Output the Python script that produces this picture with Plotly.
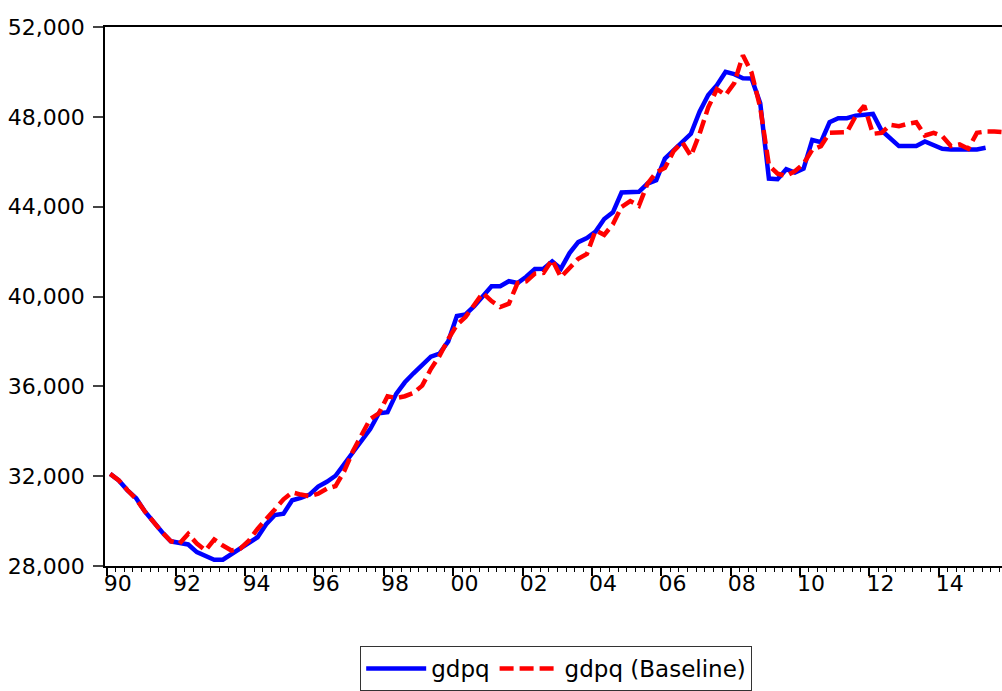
import plotly.graph_objects as go

# Quarterly observations, 1990Q1 onward
quarters = [f"{y}Q{q}" for y in range(1990, 2016) for q in range(1, 5)]

gdpq = [
    32100, 31810, 31370, 31020, 30430, 29940, 29500, 29100,
    29020, 28960, 28620, 28430, 28280, 28280, 28520, 28770,
    29020, 29280, 29860, 30270, 30330, 30930, 31030, 31180,
    31540, 31750, 32020, 32550, 33080, 33600, 34100, 34800,
    34850, 35665, 36180, 36580, 36960, 37320, 37460, 38000,
    39130, 39200, 39570, 40020, 40460, 40460, 40680, 40600,
    40880, 41230, 41240, 41565, 41240, 41935, 42420, 42600,
    42890, 43450, 43750, 44630, 44660, 44660, 45030, 45180,
    46140, 46505, 46875, 47243, 48230, 48970, 49410, 50000,
    49900, 49720, 49706, 48600, 45250, 45220, 45665, 45517,
    45694, 46970, 46874, 47759, 47936, 47936, 48054, 48113,
    48128, 47390, 47022, 46697, 46697, 46697, 46904, 46756,
    46579, 46550, 46550, 46535, 46550, 46623,
]

gdpq_baseline = [
    32100, 31810, 31370, 30980, 30430, 29940, 29500, 29100,
    29000, 29430, 29000, 28690, 29180, 28910, 28690, 28770,
    29130, 29650, 30120, 30520, 30970, 31280, 31180, 31110,
    31220, 31440, 31560, 32220, 33110, 33820, 34550, 34800,
    35560, 35480, 35560, 35710, 36030, 36770, 37360, 38100,
    38730, 39090, 39650, 40160, 39795, 39530, 39680, 40600,
    40670, 41020, 41050, 41640, 40860, 41300, 41680, 41890,
    42940, 42745, 43220, 43990, 44250, 44040, 45030, 45520,
    45725, 46470, 46875, 46255, 47243, 48420, 49235, 48970,
    49500, 50740, 49970, 48420, 45840, 45470, 45370, 45577,
    45915, 46530, 46697, 47287, 47317, 47317, 48025, 48497,
    47243, 47287, 47641, 47582, 47685, 47759, 47169, 47287,
    47140, 46697, 46771, 46579, 47287, 47346, 47346, 47317,
]

y_ticks = [28000, 32000, 36000, 40000, 44000, 48000, 52000]
x_tick_years = list(range(1990, 2016, 2))
x_tick_labels = [f"{y % 100:02d}" for y in x_tick_years]


def qpos(label):
    y, q = label.split("Q")
    return int(y) + (int(q) - 1) / 4 + 0.1


x_blue = [qpos(q) for q in quarters[:len(gdpq)]]
x_red = [qpos(q) for q in quarters[:len(gdpq_baseline)]]

FONT = "DejaVu Sans, Arial, sans-serif"
FS = 22
X_RANGE = [1989.951, 2015.823]

fig = go.Figure()
fig.add_trace(go.Scatter(
    x=x_blue, y=gdpq, mode="lines", name="gdpq",
    line=dict(color="#0000FF", width=4.5),
))
fig.add_trace(go.Scatter(
    x=x_red, y=gdpq_baseline, mode="lines", name="gdpq (Baseline)",
    line=dict(color="#FF0000", width=4.5, dash="14px,6px"),
))

fig.update_layout(
    width=1002, height=691,
    margin=dict(l=105, r=0, t=27, b=121),
    paper_bgcolor="white", plot_bgcolor="white",
    font=dict(family=FONT, size=FS, color="black"),
    showlegend=True,
    legend=dict(
        orientation="h", x=0.503, xanchor="center", y=-0.149, yanchor="top",
        bordercolor="#333333", borderwidth=1, bgcolor="white",
        font=dict(family=FONT, size=23, color="black"),
        itemwidth=60,
    ),
    # primary x axis: labels only
    xaxis=dict(
        range=X_RANGE,
        tickmode="array", tickvals=x_tick_years, ticktext=x_tick_labels,
        ticks="", ticklabelshift=11, ticklabelstandoff=-3,
        showgrid=False, zeroline=False,
        showline=True, linecolor="black", linewidth=1.5, mirror=True,
        tickfont=dict(family=FONT, size=FS, color="black"),
    ),
    # overlay x axis: tick marks only
    xaxis2=dict(
        range=X_RANGE, overlaying="x", anchor="y", side="bottom",
        tickmode="array", tickvals=x_tick_years, showticklabels=False,
        ticks="outside", ticklen=9, tickwidth=1.5, tickcolor="black",
        minor=dict(dtick=0.25, tick0=1990, ticks="outside", ticklen=5,
                   tickwidth=1, tickcolor="black"),
        showgrid=False, zeroline=False, showline=False,
    ),
    yaxis=dict(
        range=[28000, 52000],
        tickmode="array", tickvals=y_ticks, tickformat=",d",
        ticks="outside", ticklen=10, tickwidth=1.5, tickcolor="#444444",
        ticklabelstandoff=4,
        showgrid=False, zeroline=False,
        showline=True, linecolor="black", linewidth=1.5, mirror=False,
        tickfont=dict(family=FONT, size=FS, color="black"),
    ),
)

# invisible trace to activate the tick-mark overlay axis
fig.add_trace(go.Scatter(
    x=X_RANGE, y=[None, None], xaxis="x2", mode="lines",
    showlegend=False, hoverinfo="skip",
))

fig.write_html(
    "out.html",
    config={"displayModeBar": False},
    post_script="document.body.style.margin='0';",
)
